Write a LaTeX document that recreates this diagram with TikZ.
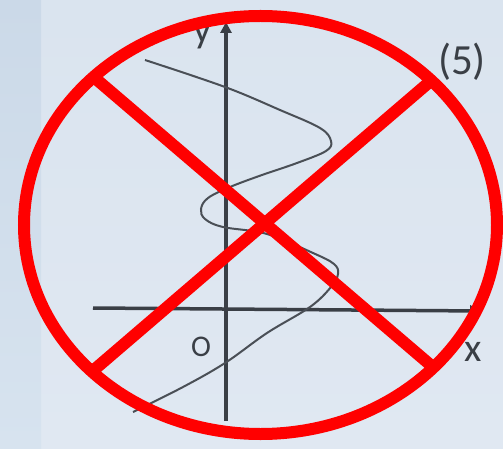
\documentclass[tikz,border=0pt]{standalone}
\usepackage{fontspec}
\setmainfont{Carlito}
\usetikzlibrary{arrows.meta,shapes.geometric}
\definecolor{bgmaintop}{HTML}{DAE4EF}
\definecolor{bgmainbot}{HTML}{E0E8F2}
\definecolor{bglefttop}{HTML}{CBD9E8}
\definecolor{bgleftbot}{HTML}{D7E3EF}
\definecolor{axisgray}{HTML}{3A3F46}
\definecolor{curvegray}{HTML}{4A4F56}
\definecolor{crossred}{HTML}{FF0000}
\begin{document}
\begin{tikzpicture}[x=1pt,y=-1pt,
  axisline/.style={draw=axisgray,line width=3.5pt,-{Triangle[length=11pt,width=11pt]}},
  curveline/.style={draw=curvegray,line width=2pt},
  redline/.style={draw=crossred,line width=12pt},
  lbl/.style={text=axisgray,inner sep=0pt}]
\shade[top color=bgmaintop,bottom color=bgmainbot] (0,0) rectangle (503,449);
\shade[top color=bglefttop,bottom color=bgleftbot] (0,0) rectangle (41,449);
\useasboundingbox (0,0) rectangle (503,449);
% axes
\coordinate (ybot) at (226,421);
\coordinate (ytop) at (226,22);
\coordinate (xleft) at (93,308);
\coordinate (xright) at (481,311);
\draw[axisline] (ybot) -- (ytop);
\draw[axisline] (xleft) -- (xright);
% curve
\draw[curveline] plot[smooth,tension=0.6] coordinates {
 (145,60) (225,87) (280,110) (320,128) (331,141) (326,151) (297,163) (262,175)
 (230,187) (208,198) (201,209) (205,219) (223,227) (267,234) (313,253) (334,264)
 (338,274) (331,287) (310,307) (267,333) (225,363) (183,387) (133,412)};
% labels
\node[lbl,font=\fontsize{40}{40}\selectfont] (ylab) at (203,36) {y};
\node[lbl,font=\fontsize{30}{30}\selectfont] (olab) at (201,347) {O};
\node[lbl,font=\fontsize{40}{40}\selectfont] (xlab) at (473,352) {x};
\node[lbl,font=\fontsize{43}{43}\selectfont] (num) at (462,62) {(5)};
% red cross-out
\node[draw=crossred,line width=12pt,ellipse,minimum width=473pt,minimum height=418pt,inner sep=0pt] (ring) at (260.5,225) {};
\coordinate (c1) at (96,79);
\coordinate (c2) at (434,368);
\coordinate (c3) at (433,79);
\coordinate (c4) at (95,369);
\draw[redline] (c1) -- (c2);
\draw[redline] (c3) -- (c4);
\end{tikzpicture}
\end{document}
